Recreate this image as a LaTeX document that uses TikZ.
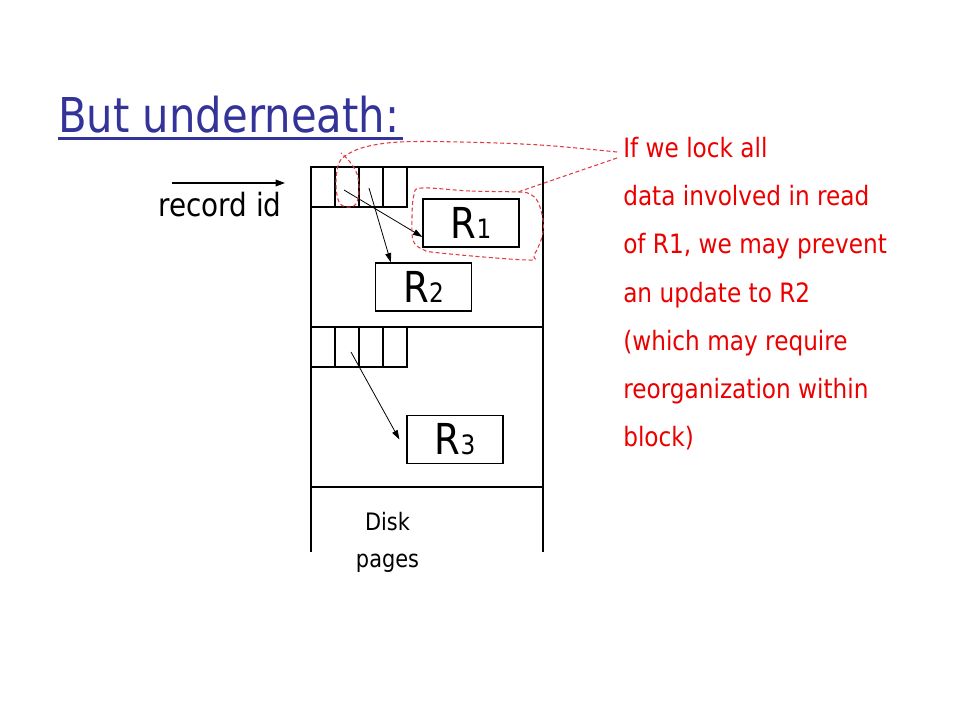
\documentclass[tikz,border=0pt]{standalone}
\usepackage{fontspec}
\usetikzlibrary{arrows.meta,calc}
\newfontfamily\tah[FakeStretch=0.87]{DejaVu Sans}
\definecolor{titleblue}{RGB}{51,51,153}
\definecolor{notered}{RGB}{235,0,0}
\definecolor{dashred}{RGB}{225,60,70}
\tikzset{
  line/.style={line width=0.9pt},
  cellbox/.style={draw,line width=0.9pt,minimum width=18pt,minimum height=30pt,inner sep=0pt},
  recbox/.style={draw,line width=0.9pt,minimum width=72pt,minimum height=36pt,inner sep=0pt},
  ptr/.style={line width=0.6pt,-{Triangle[length=7pt,width=4.5pt]}},
  note/.style={text=notered,anchor=base west,inner sep=0pt,font={\tah\fontsize{20}{24}\selectfont}},
  lock/.style={dashred,line width=0.8pt,dash pattern=on 3pt off 2pt},
}
\newcommand{\recl}[1]{{\tah\fontsize{32}{36}\selectfont R}{\tah\fontsize{20}{24}\selectfont #1}}
\begin{document}
\begin{tikzpicture}[x=0.75pt,y=-0.75pt]
\useasboundingbox (0,0) rectangle (960,720);
% title
\node[anchor=base west,inner sep=0pt,text=titleblue,font={\tah\fontsize{36}{40}\selectfont}] (title) at (58,133) {But underneath:};
\draw[titleblue,line width=2.2pt] (58,138.5) -- (403,138.5);
% record id
\node[anchor=base west,inner sep=0pt,font={\tah\fontsize{24}{28}\selectfont}] (rid) at (158,217) {record id};
\coordinate (ridA) at (172,183);
\coordinate (ridB) at (285,183);
\draw[line,-{Triangle[length=7pt,width=5pt]}] (ridA) -- (ridB);
% pages
\draw[line] (311,552) -- (311,167) -- (543,167) -- (543,552);
\draw[line] (311,327) -- (543,327);
\draw[line] (311,487) -- (543,487);
% slot cells
\node[cellbox] (a1) at (323,187) {};
\node[cellbox] (a2) at (347,187) {};
\node[cellbox] (a3) at (371,187) {};
\node[cellbox] (a4) at (395,187) {};
\node[cellbox] (b1) at (323,347) {};
\node[cellbox] (b2) at (347,347) {};
\node[cellbox] (b3) at (371,347) {};
\node[cellbox] (b4) at (395,347) {};
% records
\node[recbox] (R1) at (471,223) {\recl{1}};
\node[recbox] (R2) at (423.5,287) {\recl{2}};
\node[recbox] (R3) at (455,439.5) {\recl{3}};
% pointers
\coordinate (p1) at (344,190);
\coordinate (p2) at (369,188);
\coordinate (p3) at (351,352);
\draw[ptr] (p1) -- (R1.196);
\draw[ptr] (p2) -- (R2.143);
\draw[ptr] (p3) -- ($(R3.west)+(-7,0)$);
% disk pages label
\node[anchor=base,inner sep=0pt,font={\tah\fontsize{18}{22}\selectfont}] (disk) at (387.5,530) {Disk};
\node[anchor=base,inner sep=0pt,font={\tah\fontsize{18}{22}\selectfont}] (pages) at (387.5,567) {pages};
% note
\node[note] (n1) at (623,158) {If we lock all};
\node[note] (n2) at (623,206) {data involved in read};
\node[note] (n3) at (623,254) {of R1, we may prevent};
\node[note] (n4) at (623,302) {an update to R2};
\node[note] (n5) at (623,350) {(which may require};
\node[note] (n6) at (623,398) {reorganization within};
\node[note] (n7) at (623,446) {block)};
% lock outline
\draw[lock] plot[smooth,tension=0.6] coordinates {(617,152) (540,145) (460,142) (400,142) (365,147) (345,156) (338,166) (336,185) (339,202) (347,207) (356,204) (359,190) (357,174) (350,162) (341,153)};
\draw[lock] (617,158) -- (518,192);
\draw[lock] plot[smooth cycle,tension=0.6] coordinates {(518,192) (470,191) (422,188) (414,195) (412,217) (413,240) (422,249) (440,253) (527,260) (534,255) (542,237) (543,220) (538,202) (530,194)};
\end{tikzpicture}
\end{document}
